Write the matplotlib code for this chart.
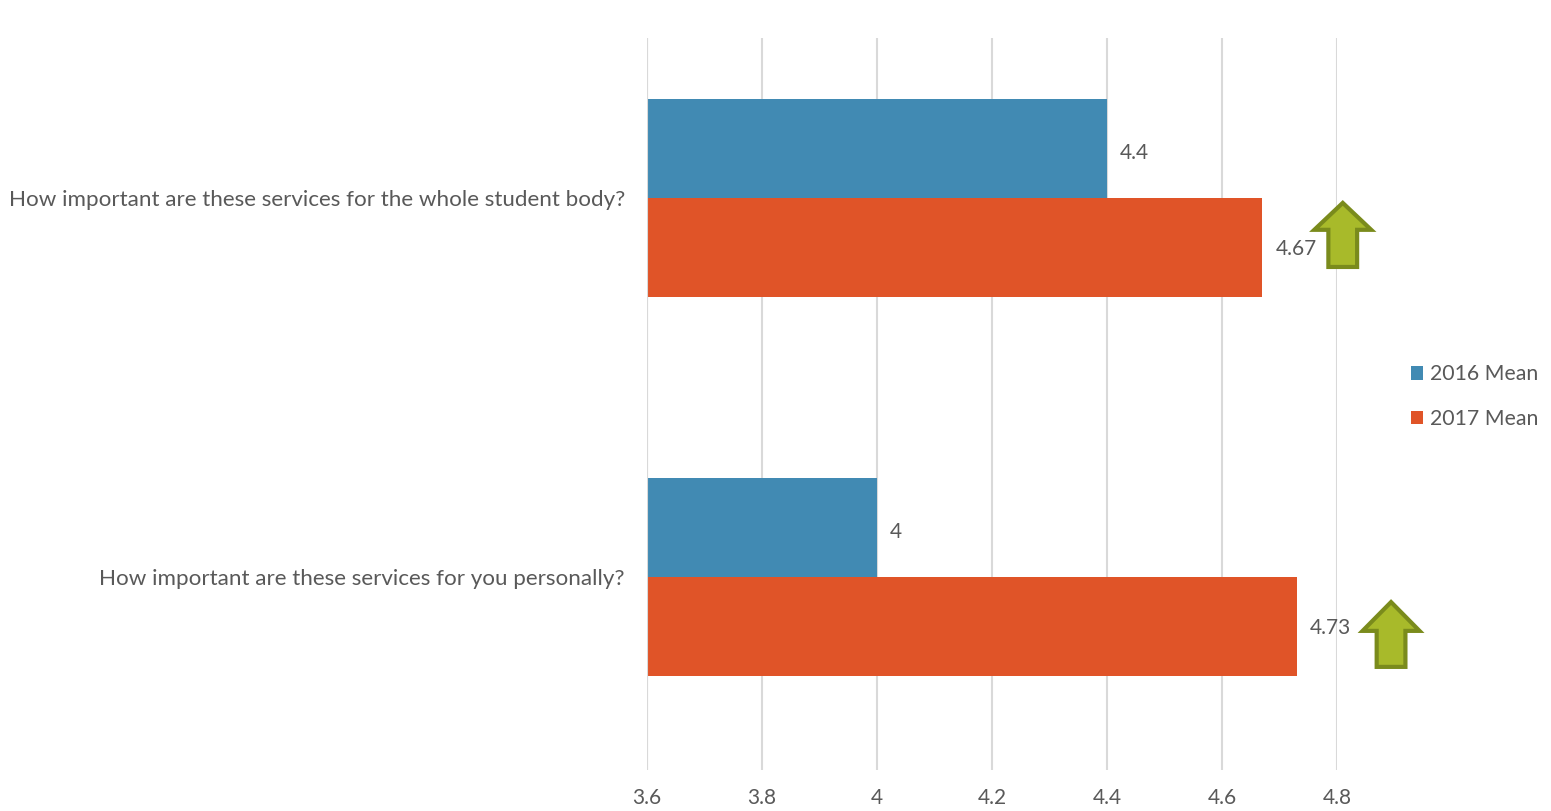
import matplotlib
matplotlib.use('Agg')
import matplotlib.pyplot as plt
from matplotlib.patches import Polygon
import numpy as np

# survey data
questions = ['How important are these services for you personally?',
             'How important are these services for the whole student body?']
mean_2016 = [4.0, 4.4]
mean_2017 = [4.73, 4.67]
labels_2016 = ['4', '4.4']
labels_2017 = ['4.73', '4.67']
ticks = [3.6, 3.8, 4.0, 4.2, 4.4, 4.6, 4.8]
tick_labels = ['3.6', '3.8', '4', '4.2', '4.4', '4.6', '4.8']

c16 = '#418AB3'
c17 = '#E05428'
txt = '#595959'

plt.rcParams['font.family'] = ['Lato', 'DejaVu Sans']

fig = plt.figure(figsize=(15.51, 8.11), dpi=100)
ax = fig.add_axes([647/1551, 1-770/811, 690/1551, 732/811])

y = np.arange(len(questions))
h = 0.261
ax.barh(y + h/2, mean_2016, height=h, left=0, color=c16, label='2016 Mean', zorder=2)
ax.barh(y - h/2, mean_2017, height=h, left=0, color=c17, label='2017 Mean', zorder=2)

for yi, v, s in zip(y + h/2, mean_2016, labels_2016):
    ax.annotate(s, (v, yi), xytext=(9.5, -3), textcoords='offset points',
                va='center', ha='left', fontsize=15, color=txt)
for yi, v, s in zip(y - h/2, mean_2017, labels_2017):
    ax.annotate(s, (v, yi), xytext=(9.5, -1), textcoords='offset points',
                va='center', ha='left', fontsize=15, color=txt)

ax.set_xlim(3.6, 4.8)
ax.set_ylim(-0.509, 1.422)
ax.set_xticks(ticks)
ax.set_xticklabels(tick_labels, fontsize=15, color=txt)
ax.set_yticks(y)
ax.set_yticklabels(questions, fontsize=16.1, color=txt)
ax.tick_params(axis='both', length=0)
ax.tick_params(axis='x', pad=13)
ax.tick_params(axis='y', pad=16)
for sp in ax.spines.values():
    sp.set_visible(False)
ax.grid(axis='x', color='#D9D9D9', lw=1.5, zorder=0)
ax.axvline(3.6, color='#D9D9D9', lw=1.5, zorder=3)


# green "up" arrows next to the 2017 bars
def up_arrow(xc, ytop, ybase, ybot, hw=0.0495, sw=0.025):
    pts = [(xc, ytop), (xc + hw, ybase), (xc + sw, ybase), (xc + sw, ybot),
           (xc - sw, ybot), (xc - sw, ybase), (xc - hw, ybase)]
    ax.add_patch(Polygon(pts, closed=True, facecolor='#A8BA2A', edgecolor='#7A8B1C',
                         lw=3, clip_on=False, zorder=4, joinstyle='miter'))

up_arrow(4.81, 0.987, 0.916, 0.818)
up_arrow(4.894, -0.066, -0.142, -0.237)

leg = ax.legend(loc='center left', bbox_to_anchor=(1.079, 0.51), frameon=False,
                fontsize=15.3, handlelength=0.6, handleheight=0.6, handletextpad=0.3,
                labelspacing=1.15)
for t in leg.get_texts():
    t.set_color(txt)

fig.savefig('out.png', dpi=100)
